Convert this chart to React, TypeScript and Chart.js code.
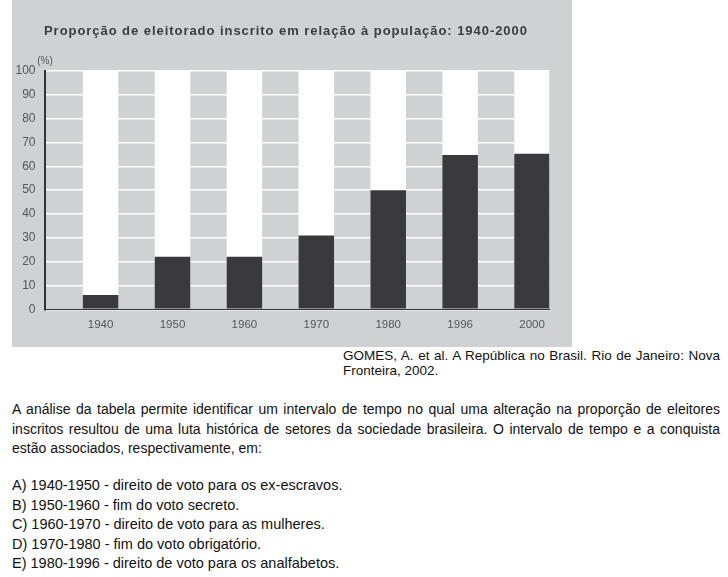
import React, { useEffect, useRef } from 'react';
import { Chart, registerables } from 'chart.js';

Chart.register(...registerables);

// ---------- data ----------
const years = ['1940', '1950', '1960', '1970', '1980', '1996', '2000'];
const electoratePct = [6, 22, 22, 31, 50, 64.8, 65.3];
const populationPct = [100, 100, 100, 100, 100, 100, 100];
const yMin = 0;
const yMax = 100;
const yStep = 10;
const chartTitle = 'Proporção de eleitorado inscrito em relação à população: 1940-2000';
const yUnit = '(%)';

const sourceLines = [
  'GOMES, A. et al. A República no Brasil. Rio de Janeiro: Nova',
  'Fronteira, 2002.',
];
const paragraphLines = [
  'A análise da tabela permite identificar um intervalo de tempo no qual uma alteração na proporção de eleitores',
  'inscritos resultou de uma luta histórica de setores da sociedade brasileira. O intervalo de tempo e a conquista',
  'estão associados, respectivamente, em:',
];
const optionLines = [
  'A) 1940-1950 - direito de voto para os ex-escravos.',
  'B) 1950-1960 - fim do voto secreto.',
  'C) 1960-1970 - direito de voto para as mulheres.',
  'D) 1970-1980 - fim do voto obrigatório.',
  'E) 1980-1996 - direito de voto para os analfabetos.',
];

// ---------- style ----------
const FONT = "'Liberation Sans', Arial, Helvetica, sans-serif";
const GRAY = '#cfd1d3';
const DARK = '#3a393c';
const TICK = '#555555';

function ChartBox() {
  const ref = useRef<HTMLCanvasElement | null>(null);
  useEffect(() => {
    if (!ref.current) return;
    const textPlugin = {
      id: 'chartTexts',
      afterDraw(chart: any) {
        const { ctx, chartArea } = chart;
        ctx.save();
        // title
        ctx.font = `bold 13px ${FONT}`;
        ctx.fillStyle = '#3c3c3c';
        ctx.textAlign = 'left';
        ctx.textBaseline = 'middle';
        try {
          (ctx as any).letterSpacing = '0.95px';
        } catch (e) {}
        ctx.fillText(chartTitle, chartArea.left - 0.5, 31);
        try {
          (ctx as any).letterSpacing = '0px';
        } catch (e) {}
        // unit
        ctx.font = `10px ${FONT}`;
        ctx.fillStyle = TICK;
        ctx.textAlign = 'center';
        ctx.fillText(yUnit, chartArea.left + 0.5, chartArea.top - 10);
        ctx.restore();
      },
    };
    const common = { grouped: false, barPercentage: 0.494, categoryPercentage: 1, borderWidth: 0 };
    const chart = new Chart(ref.current, {
      type: 'bar',
      data: {
        datasets: [
          {
            label: 'Eleitorado inscrito',
            data: electoratePct.map((v, i) => ({ x: i, y: v })),
            backgroundColor: DARK,
            order: 0,
            ...common,
          },
          {
            label: 'População',
            data: populationPct.map((v, i) => ({ x: i, y: v })),
            backgroundColor: '#ffffff',
            order: 1,
            ...common,
          },
        ],
      } as any,
      options: {
        responsive: false,
        animation: false,
        layout: { padding: { left: 0, right: 22.7, top: 71, bottom: 0 } },
        plugins: {
          legend: { display: false },
          tooltip: { enabled: false },
          title: { display: false },
        },
        scales: {
          x: {
            type: 'linear',
            min: -0.78,
            max: 6.24,
            offset: false,
            grid: { display: false },
            border: { display: true, color: '#333333', width: 1, z: 1 },
            ticks: {
              stepSize: 1,
              includeBounds: false,
              autoSkip: false,
              maxRotation: 0,
              padding: 1,
              color: TICK,
              font: { family: FONT, size: 11.5 },
              callback: (v: any) => (Number.isInteger(v) && years[v] !== undefined ? years[v] : ''),
            },
            afterFit: (s: any) => {
              s.height = 37.7;
            },
          },
          y: {
            min: yMin,
            max: yMax,
            grid: { color: '#ffffff', lineWidth: 1.5, drawTicks: false },
            border: { display: true, color: '#333333', width: 2, z: 1 },
            ticks: {
              stepSize: yStep,
              padding: 9,
              color: TICK,
              font: { family: FONT, size: 12 },
            },
            afterFit: (s: any) => {
              s.width = 32.5;
            },
          },
        },
      } as any,
      plugins: [textPlugin],
    });
    return () => chart.destroy();
  }, []);
  return (
    <div style={{ position: 'absolute', left: 12, top: 0, width: 560, height: 347, background: GRAY }}>
      <canvas ref={ref} width={560} height={347} style={{ display: 'block', width: 560, height: 347 }} />
    </div>
  );
}

function Line({ text, left, top, width, size, lh, justify }: any) {
  return (
    <div
      style={{
        position: 'absolute',
        left,
        top,
        width,
        height: lh,
        lineHeight: `${lh}px`,
        fontSize: size,
        textAlign: justify ? 'justify' : 'left',
        textAlignLast: justify ? 'justify' : 'left',
      } as any}
    >
      {text}
    </div>
  );
}

export default function App() {
  return (
    <div
      style={{
        position: 'absolute',
        left: 0,
        top: 0,
        width: 728,
        height: 577,
        background: '#ffffff',
        fontFamily: FONT,
        color: '#111111',
        overflow: 'hidden',
      }}
    >
      <ChartBox />
      {sourceLines.map((t, i) => (
        <Line key={'s' + i} text={t} left={343} top={347.5 + i * 15} width={377} size={13.5} lh={15} justify={i < sourceLines.length - 1} />
      ))}
      {paragraphLines.map((t, i) => (
        <Line key={'p' + i} text={t} left={12} top={400.3 + i * 19.4} width={708} size={14} lh={19.4} justify={i < paragraphLines.length - 1} />
      ))}
      {optionLines.map((t, i) => (
        <Line key={'o' + i} text={t} left={12} top={476.3 + i * 19.4} width={708} size={14.5} lh={19.4} justify={false} />
      ))}
    </div>
  );
}
